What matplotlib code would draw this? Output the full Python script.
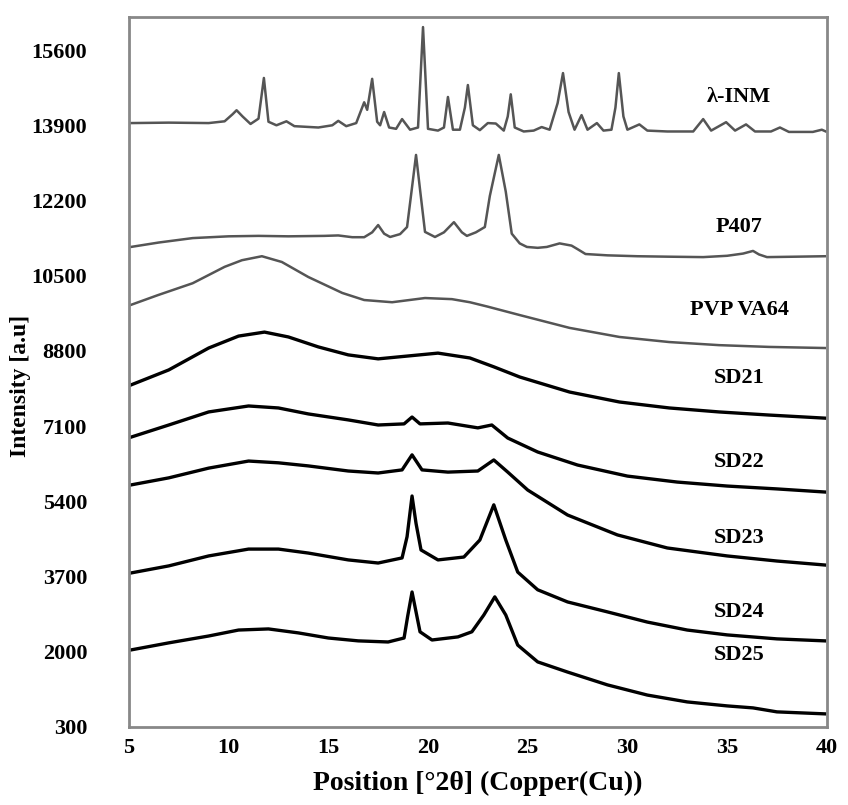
import matplotlib.pyplot as plt
import numpy as np

# XRD traces: (2theta, intensity) pairs
inm = [(5.1, 13950), (7.0, 13960), (9.0, 13950), (9.8, 13990), (10.2, 14150), (10.4, 14240),
       (10.7, 14100), (11.1, 13930), (11.5, 14050), (11.77, 14970), (12.0, 13980), (12.4, 13900),
       (12.9, 13990), (13.3, 13880), (14.5, 13850), (15.2, 13900), (15.5, 14000), (15.9, 13880),
       (16.4, 13950), (16.8, 14420), (16.95, 14250), (17.2, 14950), (17.45, 13980), (17.6, 13900),
       (17.8, 14200), (18.05, 13850), (18.4, 13820), (18.7, 14040), (19.1, 13800), (19.5, 13850),
       (19.75, 16120), (20.0, 13820), (20.5, 13780), (20.8, 13850), (21.0, 14540), (21.25, 13800),
       (21.6, 13800), (21.85, 14300), (22.0, 14810), (22.25, 13900), (22.6, 13790), (23.0, 13950),
       (23.4, 13940), (23.8, 13780), (24.0, 14100), (24.15, 14600), (24.35, 13850), (24.8, 13760),
       (25.3, 13780), (25.7, 13860), (26.1, 13800), (26.5, 14400), (26.77, 15080), (27.05, 14200),
       (27.35, 13800), (27.7, 14130), (28.0, 13800), (28.47, 13950), (28.8, 13780), (29.2, 13800),
       (29.4, 14300), (29.57, 15080), (29.8, 14100), (30.0, 13800), (30.6, 13920), (31.0, 13780),
       (32.0, 13760), (33.3, 13760), (33.8, 14040), (34.2, 13780), (34.95, 13970), (35.4, 13780),
       (35.95, 13920), (36.4, 13760), (37.2, 13760), (37.65, 13850), (38.1, 13750), (39.3, 13750),
       (39.75, 13800), (39.95, 13760)]

p407 = [(5.1, 11150), (6.5, 11250), (8.2, 11350), (10.0, 11390), (11.5, 11400), (13.0, 11390),
        (14.8, 11400), (15.5, 11410), (16.2, 11370), (16.8, 11370), (17.2, 11480), (17.5, 11645),
        (17.8, 11450), (18.1, 11375), (18.6, 11440), (18.95, 11600), (19.2, 12500), (19.4, 13230),
        (19.6, 12450), (19.85, 11490), (20.35, 11375), (20.8, 11480), (21.3, 11710), (21.7, 11480),
        (21.95, 11400), (22.4, 11480), (22.85, 11600), (23.1, 12300), (23.55, 13230), (23.9, 12400),
        (24.2, 11450), (24.6, 11230), (24.96, 11150), (25.5, 11130), (25.96, 11150), (26.6, 11230),
        (27.2, 11180), (27.5, 11100), (27.9, 10990), (29.0, 10960), (30.5, 10940), (32.0, 10930),
        (33.8, 10920), (35.0, 10950), (35.8, 11000), (36.3, 11060), (36.6, 10980), (37.0, 10920),
        (38.5, 10930), (39.9, 10940)]

pvp = [(5.1, 9840), (6.45, 10060), (8.2, 10330), (9.8, 10700), (10.67, 10850), (11.67, 10940),
       (12.67, 10810), (14.0, 10470), (15.7, 10110), (16.8, 9950), (18.2, 9900), (19.85, 9995),
       (21.2, 9970), (22.1, 9900), (23.0, 9800), (24.6, 9610), (27.1, 9320), (29.6, 9115),
       (32.1, 9000), (34.6, 8930), (37.1, 8890), (39.9, 8865)]

sd21 = [(5.1, 8030), (7.0, 8370), (9.0, 8865), (10.5, 9135), (11.8, 9225), (13.0, 9115),
        (14.5, 8890), (16.0, 8710), (17.5, 8620), (19.0, 8685), (20.5, 8750), (22.1, 8640),
        (23.3, 8440), (24.6, 8210), (27.1, 7870), (29.6, 7645), (32.1, 7510), (34.6, 7420),
        (37.1, 7350), (39.9, 7280)]

sd22 = [(5.1, 6850), (7.0, 7125), (9.0, 7420), (11.0, 7555), (12.5, 7510), (14.0, 7375),
        (16.0, 7240), (17.5, 7125), (18.8, 7150), (19.2, 7305), (19.6, 7150), (21.0, 7170),
        (22.5, 7060), (23.2, 7125), (24.0, 6830), (25.5, 6515), (27.5, 6220), (30.0, 5970),
        (32.5, 5835), (35.0, 5745), (37.5, 5680), (39.9, 5610)]

sd23 = [(5.1, 5770), (7.0, 5930), (9.0, 6150), (11.0, 6310), (12.5, 6270), (14.0, 6200),
        (16.0, 6085), (17.5, 6040), (18.7, 6110), (19.2, 6450), (19.7, 6110), (21.0, 6060),
        (22.5, 6085), (23.3, 6335), (24.0, 6060), (25.0, 5655), (27.0, 5090), (29.5, 4640),
        (32.0, 4345), (35.0, 4165), (37.5, 4050), (39.9, 3960)]

sd24 = [(5.1, 3780), (7.0, 3940), (9.0, 4165), (11.0, 4320), (12.5, 4320), (14.0, 4230),
        (16.0, 4075), (17.5, 4005), (18.7, 4120), (18.95, 4600), (19.2, 5520), (19.4, 4900),
        (19.65, 4300), (20.5, 4075), (21.8, 4140), (22.6, 4525), (23.3, 5320), (23.9, 4525),
        (24.5, 3800), (25.5, 3400), (27.0, 3125), (29.0, 2900), (31.0, 2670), (33.0, 2490),
        (35.0, 2380), (37.5, 2290), (39.9, 2245)]

sd25 = [(5.1, 2040), (7.0, 2200), (9.0, 2355), (10.5, 2490), (12.0, 2515), (13.5, 2425),
        (15.0, 2310), (16.5, 2245), (18.0, 2220), (18.8, 2310), (18.98, 2800), (19.2, 3350),
        (19.4, 2900), (19.6, 2450), (20.2, 2265), (21.5, 2335), (22.2, 2450), (22.8, 2830),
        (23.35, 3240), (23.9, 2830), (24.5, 2150), (25.5, 1770), (27.0, 1540), (29.0, 1250),
        (31.0, 1020), (33.0, 865), (35.0, 775), (36.3, 730), (37.5, 640), (39.9, 595)]

names = ["λ-INM", "P407", "PVP VA64", "SD21", "SD22", "SD23", "SD24", "SD25"]
label_y = [14540, 11600, 9724, 8190, 6290, 4570, 2900, 1930]
yticks = list(range(300, 15601, 1700))
xticks = list(range(5, 41, 5))

plt.rcParams['font.family'] = ['Liberation Serif', 'DejaVu Serif']
plt.rcParams['font.weight'] = 'bold'

fig = plt.figure(figsize=(8.48, 8.05), dpi=100)
ax = fig.add_axes([0.152, 0.097, 0.823, 0.882])

series = [inm, p407, pvp, sd21, sd22, sd23, sd24, sd25]
for i, s in enumerate(series):
    arr = np.array(s)
    if i < 3:
        ax.plot(arr[:, 0], arr[:, 1], color='#555555', lw=1.8)
    else:
        ax.plot(arr[:, 0], arr[:, 1], color='black', lw=2.4)
    ax.text(35.6, label_y[i], names[i], ha='center', va='center', fontsize=16, fontweight='bold')

ax.set_xlim(5, 40)
ax.set_ylim(300, 16350)
ax.set_xticks(xticks)
ax.set_yticks(yticks)
ax.tick_params(length=0, labelsize=16)
ax.tick_params(axis='y', pad=30)
ax.tick_params(axis='x', pad=8)
for sp in ax.spines.values():
    sp.set_color('#888888')
    sp.set_linewidth(2)

ax.set_xlabel("Position [°2θ] (Copper(Cu))", fontsize=20, fontweight='bold')
ax.xaxis.set_label_coords(0.5, -0.062)
ax.set_ylabel("Intensity [a.u]", fontsize=17, fontweight='bold')
ax.yaxis.set_label_coords(-0.14, 0.48)

fig.savefig("out.png", dpi=100)
